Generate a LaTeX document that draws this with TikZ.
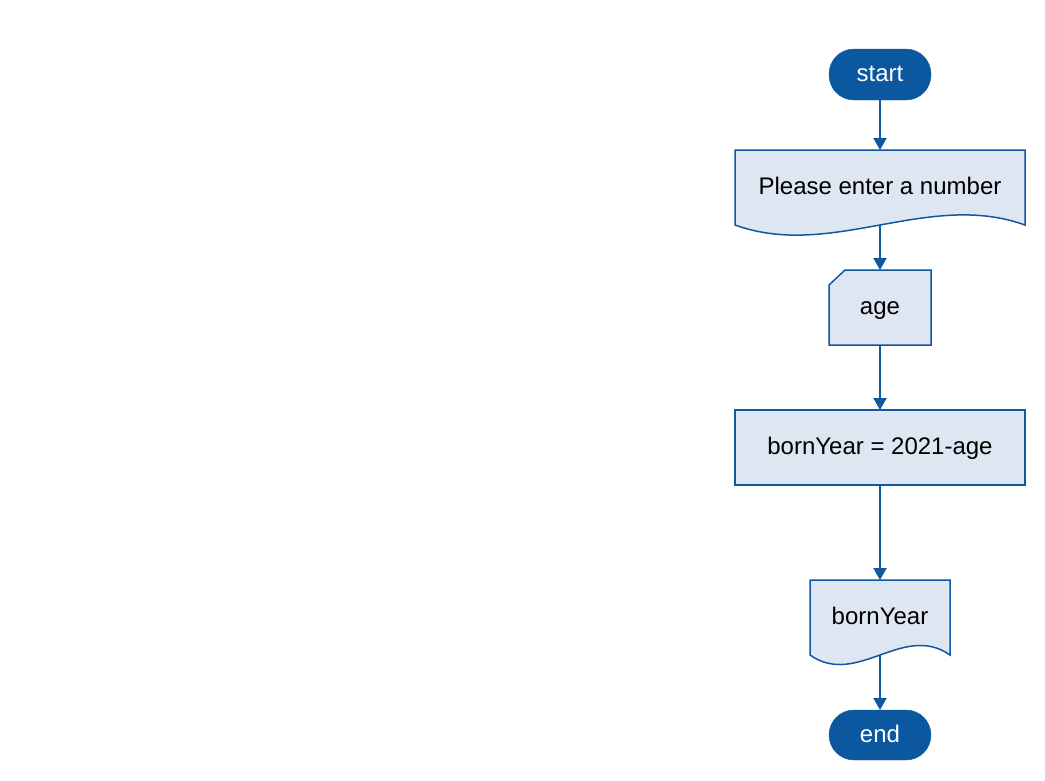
\documentclass[tikz,border=0pt]{standalone}
\usepackage{fontspec}
\setmainfont{Liberation Sans}
\usetikzlibrary{arrows.meta,calc,backgrounds}
\definecolor{edge}{RGB}{16,88,160}
\definecolor{boxfill}{RGB}{222,230,242}
\definecolor{termfill}{RGB}{12,88,160}
\tikzset{
  base/.style={font=\fontsize{24}{28}\selectfont, inner sep=0pt, outer sep=0pt, text height=17pt, text depth=3pt},
  term/.style={base, fill=termfill, draw=termfill, text=white, minimum width=102pt, minimum height=51pt, rounded corners=25pt},
  holder/.style={base, text=black},
  procbox/.style={base, fill=boxfill, draw=edge, line width=1.5pt, minimum width=290pt, minimum height=75pt},
  shp/.style={fill=boxfill, draw=edge, line width=1.5pt, line join=miter},
  conn/.style={draw=edge, line width=2pt, -{Triangle[width=13pt,length=12pt]}}
}
\begin{document}
\begin{tikzpicture}[x=1pt,y=-1pt]
\useasboundingbox (0,0) rectangle (1045,780);
\node[term] (start) at (880,74.5) {start};
\node[holder, minimum width=290pt, minimum height=75pt] (doc1) at (880,187.5) {Please enter a number};
\node[holder, minimum width=102pt, minimum height=75pt] (age) at (880,307.5) {age};
\node[procbox] (proc) at (880,447.5) {bornYear = 2021-age};
\node[holder, minimum width=140pt, minimum height=75pt] (doc2) at (880,617.5) {bornYear};
\node[term, minimum height=50pt] (end) at (880,735) {end};
\begin{pgfonlayer}{background}
\path[shp] (doc1.south west) -- (doc1.north west) -- (doc1.north east) -- (doc1.south east)
  .. controls ($(doc1.south east)+(-97pt,35pt)$) and ($(doc1.south west)+(97pt,-35pt)$) .. (doc1.south west) -- cycle;
\path[shp] (age.south west) -- ($(age.north west)+(0pt,-15pt)$) -- ($(age.north west)+(16pt,0pt)$) -- (age.north east) -- (age.south east) -- cycle;
\path[shp] (doc2.south west) -- (doc2.north west) -- (doc2.north east) -- (doc2.south east)
  .. controls ($(doc2.south east)+(-47pt,33pt)$) and ($(doc2.south west)+(47pt,-33pt)$) .. (doc2.south west) -- cycle;
\end{pgfonlayer}
\draw[conn] (start) -- (doc1);
\draw[conn] (doc1) -- (age);
\draw[conn] (age) -- (proc);
\draw[conn] (proc) -- (doc2);
\draw[conn] (doc2) -- (end);
\end{tikzpicture}
\end{document}
